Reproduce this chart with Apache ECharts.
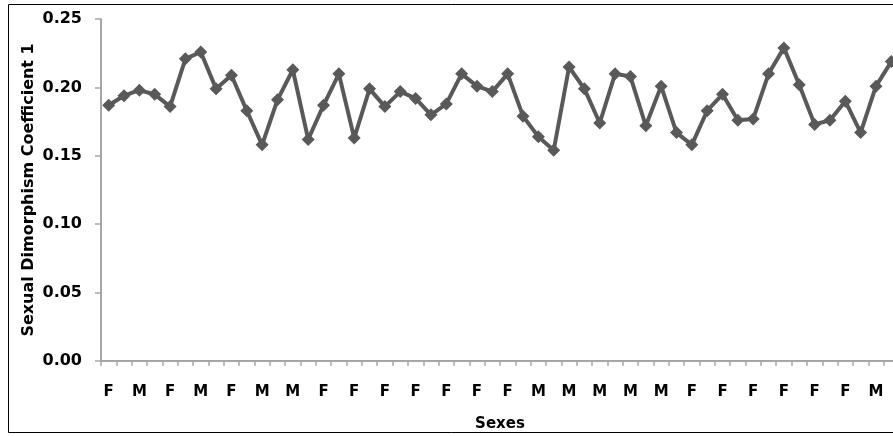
<!DOCTYPE html>
<html>
<head>
<meta charset="utf-8">
<script src="https://cdn.jsdelivr.net/npm/echarts@6/dist/echarts.min.js"></script>
<style>html,body{margin:0;padding:0;background:#fff}#c{width:893px;height:436px}</style>
</head>
<body>
<div id="c"></div>
<script>
// Labels visible on the category axis (every other category, starting at index 0)
var shownLabels = ['F','M','F','M','F','M','M','F','F','F','F','F','F','F','M','M','M','M','M','F','F','F','F','F','F','M'];
// Sexual Dimorphism Coefficient 1 for each of the 52 specimens
var values = [0.187,0.194,0.198,0.195,0.186,0.221,0.226,0.199,0.209,0.183,
              0.158,0.191,0.213,0.162,0.187,0.210,0.163,0.199,0.186,0.197,
              0.192,0.180,0.188,0.210,0.201,0.197,0.210,0.179,0.164,0.154,
              0.215,0.199,0.174,0.210,0.208,0.172,0.201,0.167,0.158,0.183,
              0.195,0.176,0.177,0.210,0.229,0.202,0.173,0.176,0.190,0.167,
              0.201,0.219];
var yTicks = [0, 0.05, 0.10, 0.15, 0.20, 0.25];

// categories: labelled ones at even indices, unlabelled in between
var categories = values.map(function (v, i) { return i % 2 === 0 ? shownLabels[i / 2] : ''; });

var FONT = 'DejaVu Sans';
var chart = echarts.init(document.getElementById('c'), null, {renderer: 'canvas'});
chart.setOption({
  animation: false,
  backgroundColor: '#fff',
  grid: {left: 101, top: 19.2, right: -6, bottom: 75.3, containLabel: false, outerBoundsMode: 'none'},
  xAxis: {
    type: 'category',
    data: categories,
    boundaryGap: true,
    name: 'Sexes',
    nameLocation: 'middle',
    nameGap: 56,
    nameMoveOverlap: false,
    nameTextStyle: {fontFamily: FONT, fontWeight: 'bold', fontSize: 15, color: '#000'},
    axisLine: {lineStyle: {color: '#a6a6a6', width: 2}},
    axisTick: {show: true, interval: 0, length: 5, lineStyle: {color: '#a6a6a6', width: 1.5}},
    axisLabel: {interval: 1, margin: 24, fontFamily: FONT, fontWeight: 'bold', fontSize: 15, color: '#000'},
    splitLine: {show: false}
  },
  yAxis: {
    type: 'value',
    min: yTicks[0],
    max: yTicks[yTicks.length - 1],
    interval: 0.05,
    name: 'Sexual Dimorphism Coefficient 1',
    nameLocation: 'middle',
    nameGap: 64,
    nameRotate: 90,
    nameMoveOverlap: false,
    nameTextStyle: {fontFamily: FONT, fontWeight: 'bold', fontSize: 16, color: '#000'},
    axisLine: {show: true, lineStyle: {color: '#a6a6a6', width: 2}},
    axisTick: {show: true, length: 6, lineStyle: {color: '#a6a6a6', width: 1.5}},
    axisLabel: {margin: 19, fontFamily: FONT, fontWeight: 'bold', fontSize: 16, color: '#000',
      formatter: function (v) { return v.toFixed(2); }},
    splitLine: {show: false}
  },
  graphic: [{
    type: 'rect', silent: true, z: 100,
    shape: {x: 8.5, y: 4.5, width: 900, height: 428},
    style: {fill: 'none', stroke: '#000', lineWidth: 1}
  }],
  series: [{
    type: 'line',
    data: values,
    symbol: 'diamond',
    symbolSize: 13,
    showSymbol: true,
    showAllSymbol: true,
    clip: false,
    lineStyle: {color: '#595959', width: 4},
    itemStyle: {color: '#595959'}
  }]
});
</script>
</body>
</html>
